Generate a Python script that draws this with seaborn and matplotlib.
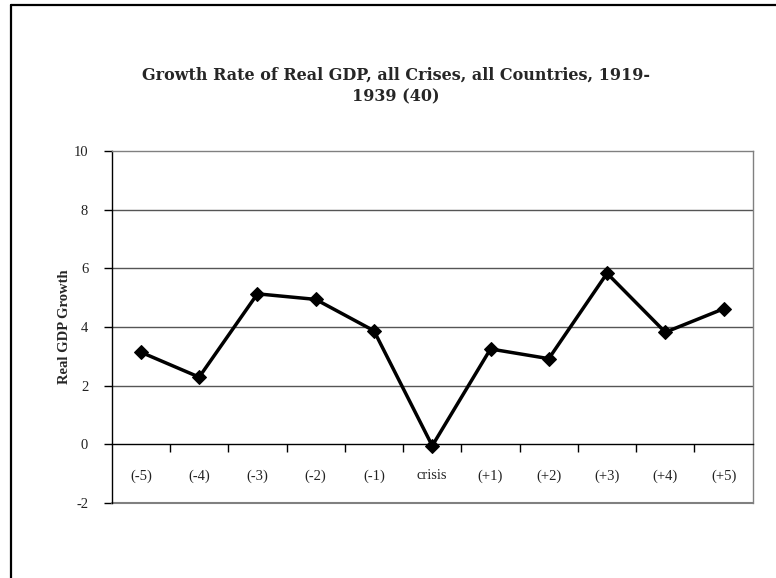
import numpy as np
import pandas as pd
import matplotlib
matplotlib.use("Agg")
import matplotlib.pyplot as plt
from matplotlib.lines import Line2D
import seaborn as sns

periods = ["(-5)", "(-4)", "(-3)", "(-2)", "(-1)", "crisis",
           "(+1)", "(+2)", "(+3)", "(+4)", "(+5)"]
gdp_growth = [3.14, 2.29, 5.13, 4.94, 3.87, -0.05, 3.25, 2.92, 5.83, 3.82, 4.62]
y_ticks = [-2, 0, 2, 4, 6, 8, 10]

df = pd.DataFrame({"period": periods, "growth": gdp_growth})

sns.set_style("white")
plt.rcParams["font.family"] = ["Liberation Serif", "DejaVu Serif"]
plt.rcParams["axes.unicode_minus"] = False

fig = plt.figure(figsize=(7.76, 5.78), dpi=100)
ax = fig.add_axes([0.144, 0.1298, 0.826, 0.609])

# gridlines
for v in y_ticks[2:-1]:
    ax.axhline(v, color="#555555", lw=1, zorder=1)

sns.lineplot(data=df, x="period", y="growth", ax=ax, color="black",
             lw=2.5, marker="D", markersize=7, markeredgecolor="black",
             sort=False, zorder=3)

ax.set_xlim(-0.5, len(periods) - 0.5)
ax.set_ylim(-2, 10)
ax.set_yticks(y_ticks)
ax.tick_params(axis="y", direction="out", length=6, width=1, color="black",
               labelsize=10.5, labelcolor="#222222", pad=11, left=True)

# x axis at zero: ticks at category boundaries, labels at centers
ax.spines["bottom"].set_position(("data", 0))
ax.spines["bottom"].set_color("black")
ax.spines["bottom"].set_linewidth(1)
ax.set_xticks(np.arange(0.5, len(periods) - 0.5, 1.0))
ax.set_xticks(np.arange(0, len(periods)), minor=True)
ax.set_xticklabels([])
ax.set_xticklabels(periods, minor=True)
ax.tick_params(axis="x", which="major", direction="out", length=6, width=1,
               color="black", bottom=True)
ax.tick_params(axis="x", which="minor", length=0, labelsize=10.5,
               labelcolor="#222222", pad=18)

ax.spines["left"].set_color("black")
ax.spines["left"].set_linewidth(1)
for s in ["top", "right"]:
    ax.spines[s].set_color("#808080")
    ax.spines[s].set_linewidth(1)
ax.axhline(-2, color="#808080", lw=1.5, zorder=1, clip_on=False)

ax.set_xlabel("")
ax.set_ylabel("Real GDP Growth", fontsize=10.5, fontweight="bold", labelpad=2)

fig.text(396 / 776, 1 - 86 / 578, "Growth Rate of Real GDP, all Crises, all Countries, 1919-\n1939 (40)",
         ha="center", va="center", fontsize=11.5, fontweight="bold",
         family=["DejaVu Serif"], linespacing=1.3)

# outer chart frame (only top and left edges visible)
fig.add_artist(Line2D([11 / 776, 11 / 776], [0, 1 - 5 / 578], color="black", lw=1.6,
                      transform=fig.transFigure))
fig.add_artist(Line2D([11 / 776, 1], [1 - 5 / 578, 1 - 5 / 578], color="black", lw=1.6,
                      transform=fig.transFigure))

fig.savefig("out.png", dpi=100)
